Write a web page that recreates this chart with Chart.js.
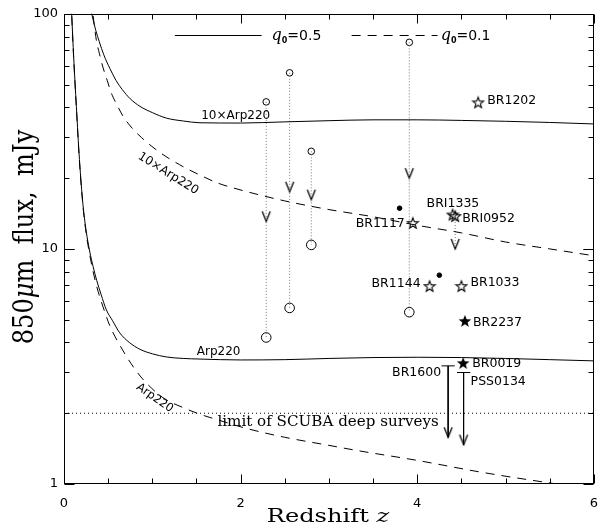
<!DOCTYPE html>
<html>
<head>
<meta charset="utf-8">
<script src="https://cdn.jsdelivr.net/npm/chart.js@4"></script>
<style>
  html, body { margin: 0; padding: 0; background: #fff; }
  #wrap { width: 610px; height: 529px; }
</style>
</head>
<body>
<div id="wrap"><canvas id="fluxChart"></canvas></div>
<script>
// axis ticks
const xTicks = [0, 2, 4, 6];
const yTicks = [1, 10, 100];

// model curves (z, flux in mJy)
const zSolid10 = [0.30, 0.325, 0.36, 0.40, 0.45, 0.52, 0.59, 0.66, 0.75, 0.86, 1.0, 1.16, 1.35, 1.54, 2.0, 2.5, 3.0, 3.5, 4.0, 4.5, 5.0, 5.5, 6.0];
const fluxSolid10 = [106, 96, 85, 76, 67, 58.5, 52, 47.6, 43.5, 40.4, 38, 36.0, 35.0, 34.4, 34.3, 34.7, 35.1, 35.4, 35.4, 35.2, 34.9, 34.5, 34.0];

const zSolid1 = [0.08, 0.087, 0.11, 0.14, 0.175, 0.215, 0.25, 0.29, 0.33, 0.37, 0.42, 0.48, 0.55, 0.63, 0.74, 0.86, 1.0, 1.16, 1.35, 1.54, 2.0, 2.5, 3.0, 3.5, 4.0, 4.5, 5.0, 5.5, 6.0];
const fluxSolid1 = [115, 100, 65, 40.4, 24, 15.4, 12.0, 9.8, 8.4, 7.35, 6.4, 5.5, 4.95, 4.4, 4.0, 3.74, 3.58, 3.47, 3.42, 3.40, 3.37, 3.38, 3.42, 3.45, 3.46, 3.45, 3.42, 3.38, 3.34];

const zDash10 = [0.33, 0.367, 0.40, 0.44, 0.49, 0.537, 0.60, 0.668, 0.76, 0.88, 1.08, 1.31, 1.54, 1.75, 1.91, 2.10, 2.5, 3.0, 3.5, 4.0, 4.5, 5.0, 5.5, 6.0];
const fluxDash10 = [98, 76.9, 68, 59.4, 52, 45.9, 41, 36.7, 33, 29.7, 25.8, 22.8, 20.6, 19.0, 18.2, 17.4, 16.0, 14.7, 13.7, 12.6, 11.7, 10.7, 10.0, 9.35];

const zDash1 = [0.08, 0.087, 0.11, 0.14, 0.175, 0.215, 0.25, 0.29, 0.33, 0.37, 0.44, 0.52, 0.64, 0.76, 0.89, 1.12, 1.34, 1.54, 1.73, 2.05, 2.5, 3.0, 3.31, 4.0, 4.74, 5.58, 6.0];
const fluxDash1 = [114, 99, 64, 40, 23.5, 15.2, 11.7, 9.5, 8.0, 6.93, 5.7, 4.70, 3.85, 3.25, 2.80, 2.33, 2.12, 1.98, 1.88, 1.73, 1.58, 1.46, 1.39, 1.26, 1.12, 1.0, 0.95];

// dotted tracks: small circle on top, big circle at bottom
const circleZ = [2.29, 2.555, 2.80, 3.91];
const circleTop = [42.2, 56.1, 26.0, 75.6];
const circleBottom = [4.2, 5.61, 10.4, 5.38];
const dropArrowZ = [2.29, 2.555, 2.80, 3.91, 4.43];
const dropArrowFlux = [13.1, 17.5, 16.2, 20.0, 10.0];

// quasars
const openStarNames = ['BR1202', 'BR1117', 'BRI1335', 'BRI0952', 'BR1144', 'BR1033'];
const openStarZ = [4.69, 3.95, 4.40, 4.43, 4.14, 4.50];
const openStarFlux = [42.0, 12.9, 14.0, 13.8, 6.95, 6.95];
const filledStarNames = ['BR2237', 'BR0019'];
const filledStarZ = [4.54, 4.52];
const filledStarFlux = [4.94, 3.27];
const dotZ = [3.80, 4.25];
const dotFlux = [14.9, 7.73];

// upper limits
const limitNames = ['BR1600', 'PSS0134'];
const limitZ = [4.35, 4.525];
const limitFlux = [3.18, 2.98];
const limitTip = [1.58, 1.47];

const scubaLimit = 2;

// ---- styles / layout ----
const barHalf = 0.075;
const DASH = [9, 7];

// label offsets in pixels from their marker: [dx, dy, align]
const nameOffset = {
    BR1202: [9, -2, 'left'],
    BR1117: [-8, 1, 'right'],
    BRI1335: [-26, -11, 'left'],
    BRI0952: [7, 2.5, 'left'],
    BR1144: [-9, -2, 'right'],
    BR1033: [9, -3, 'left'],
    BR2237: [8, 2, 'left'],
    BR0019: [9, 1, 'left'],
    BR1600: [-7, 7, 'right'],
    PSS0134: [7, 9, 'left']
};

// curve labels in data coordinates
const curveNotes = [
    { text: '10\u00d7Arp220', z: 1.944, f: 36.9, angle: 0 },
    { text: '10\u00d7Arp220', z: 1.18, f: 20.9, angle: 32 },
    { text: 'Arp220', z: 1.751, f: 3.64, angle: 0 },
    { text: 'Arp220', z: 1.027, f: 2.32, angle: 35, size: 11.5 }
];

function pts(zs, fs) {
    return zs.map((z, i) => ({ x: z, y: fs[i] }));
}

function curve(zs, fs, dash) {
    return {
        type: 'line', data: pts(zs, fs), borderColor: '#000', borderWidth: 1,
        borderDash: dash, pointRadius: 0, cubicInterpolationMode: 'monotone', fill: false
    };
}

function segment(a, b, color, dash) {
    return {
        type: 'line', data: [a, b], borderColor: color, borderWidth: 1,
        borderDash: dash, pointRadius: 0, fill: false
    };
}

function markers(data, style, radius, fillColor) {
    return {
        type: 'scatter', data: data, pointStyle: style, pointRadius: radius,
        pointBorderColor: '#000', pointBorderWidth: 1, pointBackgroundColor: fillColor
    };
}

// point images
const arrowImg = (() => {
    const c = document.createElement('canvas');
    c.width = 12; c.height = 24;
    const g = c.getContext('2d');
    g.strokeStyle = '#000'; g.lineWidth = 1.3;
    g.beginPath(); g.moveTo(2, 2); g.lineTo(6, 12); g.lineTo(10, 2); g.stroke();
    return c;
})();

function starImg(filled) {
    const s = filled ? 16 : 14;
    const c = document.createElement('canvas');
    c.width = s; c.height = s;
    const g = c.getContext('2d');
    const R = filled ? 6.6 : 5.7, r = R * 0.42;
    g.beginPath();
    for (let i = 0; i < 10; i++) {
        const a = -Math.PI / 2 + i * Math.PI / 5;
        const rr = i % 2 ? r : R;
        g.lineTo(s / 2 + rr * Math.cos(a), s / 2 + 0.6 + rr * Math.sin(a));
    }
    g.closePath();
    if (filled) { g.fillStyle = '#000'; g.fill(); }
    else { g.strokeStyle = '#000'; g.lineWidth = 1.1; g.stroke(); }
    return c;
}

// ---- datasets ----
const datasets = [
    curve(zSolid10, fluxSolid10, []),
    curve(zSolid1, fluxSolid1, []),
    curve(zDash10, fluxDash10, DASH),
    curve(zDash1, fluxDash1, DASH),
    segment({ x: 0, y: scubaLimit }, { x: 6, y: scubaLimit }, '#000', [1, 3])
];

circleZ.forEach((z, i) => {
    datasets.push(segment({ x: z, y: circleTop[i] }, { x: z, y: circleBottom[i] }, '#777', [1, 2]));
});
const bri = openStarNames.indexOf('BRI0952');
datasets.push(segment({ x: dropArrowZ[4], y: openStarFlux[bri] }, { x: dropArrowZ[4], y: dropArrowFlux[4] }, '#777', [1, 2]));

limitZ.forEach((z, i) => {
    datasets.push(segment({ x: z - barHalf, y: limitFlux[i] }, { x: z + barHalf, y: limitFlux[i] }, '#000', []));
    datasets.push(segment({ x: z, y: limitFlux[i] }, { x: z, y: limitTip[i] }, '#000', []));
});

datasets.push(markers(pts(circleZ, circleTop), 'circle', 3.3, 'rgba(0,0,0,0)'));
datasets.push(markers(pts(circleZ, circleBottom), 'circle', 4.8, '#fff'));
datasets.push(markers(pts(dropArrowZ, dropArrowFlux).concat(pts(limitZ, limitTip)), arrowImg, 5, '#000'));
datasets.push(markers(pts(openStarZ, openStarFlux), starImg(false), 5, '#000'));
datasets.push(markers(pts(filledStarZ, filledStarFlux), starImg(true), 5, '#000'));
datasets.push(markers(pts(dotZ, dotFlux), 'circle', 2.3, '#000'));

// ---- drawing helpers ----
function richText(ctx, parts, x, y, align) {
    let w = 0;
    parts.forEach(p => { ctx.font = p[1]; w += ctx.measureText(p[0]).width; });
    let cx = align === 'center' ? x - w / 2 : x;
    ctx.textAlign = 'left';
    parts.forEach(p => {
        ctx.font = p[1];
        ctx.fillText(p[0], cx, y + (p[2] || 0));
        cx += ctx.measureText(p[0]).width;
    });
}

const framePlugin = {
    id: 'frame',
    afterDatasetsDraw(chart) {
        const { ctx, chartArea: a, scales } = chart;
        const xs = scales.x, ys = scales.y;
        ctx.save();
        ctx.strokeStyle = '#000';
        ctx.fillStyle = '#000';
        ctx.lineWidth = 1;
        ctx.setLineDash([]);

        // box
        const L = Math.round(a.left) + 0.5, R = Math.round(a.right) - 0.5;
        const T = Math.round(a.top) + 0.5, B = Math.round(a.bottom) - 0.5;
        ctx.strokeRect(L, T, R - L, B - T);

        // inward ticks
        ctx.beginPath();
        for (let v = 0; v <= 6.001; v += 0.5) {
            const px = Math.round(xs.getPixelForValue(v)) + 0.5;
            const len = Math.abs(v % 2) < 1e-6 ? 9 : 5;
            ctx.moveTo(px, B); ctx.lineTo(px, B - len);
            ctx.moveTo(px, T); ctx.lineTo(px, T + len);
        }
        [1, 10].forEach(d => {
            for (let m = 1; m <= 10; m++) {
                const py = Math.round(ys.getPixelForValue(m * d)) + 0.5;
                const len = (m === 1 || m === 10) ? 10 : 5;
                ctx.moveTo(L, py); ctx.lineTo(L + len, py);
                ctx.moveTo(R, py); ctx.lineTo(R - len, py);
            }
        });
        ctx.stroke();

        // names next to markers
        ctx.textBaseline = 'middle';
        ctx.font = '12.5px "DejaVu Sans"';
        const named = [
            [openStarNames, openStarZ, openStarFlux],
            [filledStarNames, filledStarZ, filledStarFlux],
            [limitNames, limitZ, limitFlux]
        ];
        named.forEach(([names, zs, fs]) => {
            names.forEach((n, i) => {
                const o = nameOffset[n];
                ctx.textAlign = o[2];
                ctx.fillText(n, xs.getPixelForValue(zs[i]) + o[0], ys.getPixelForValue(fs[i]) + o[1]);
            });
        });

        // curve labels
        curveNotes.forEach(n => {
            ctx.save();
            ctx.translate(xs.getPixelForValue(n.z), ys.getPixelForValue(n.f));
            ctx.rotate(n.angle * Math.PI / 180);
            ctx.font = (n.size || 12) + 'px "DejaVu Sans"';
            ctx.textAlign = 'center';
            ctx.fillText(n.text, 0, 0);
            ctx.restore();
        });

        // survey limit text
        ctx.save();
        ctx.translate(xs.getPixelForValue(2.99), ys.getPixelForValue(1.82));
        ctx.scale(1.08, 1);
        ctx.font = '14px "DejaVu Serif"';
        ctx.textAlign = 'center';
        ctx.fillText('limit of SCUBA deep surveys', 0, 0);
        ctx.restore();

        // legend
        const ly = ys.getPixelForValue(80.9);
        ctx.beginPath();
        ctx.moveTo(xs.getPixelForValue(1.255), Math.round(ly) + 0.5);
        ctx.lineTo(xs.getPixelForValue(2.238), Math.round(ly) + 0.5);
        ctx.stroke();
        ctx.setLineDash(DASH);
        ctx.beginPath();
        ctx.moveTo(xs.getPixelForValue(3.257), Math.round(ly) + 0.5);
        ctx.lineTo(xs.getPixelForValue(4.23), Math.round(ly) + 0.5);
        ctx.stroke();
        ctx.setLineDash([]);
        ctx.textBaseline = 'alphabetic';
        const qParts = val => [
            ['q', 'italic 16px "DejaVu Serif"', 0],
            ['0', 'bold 8px "DejaVu Sans"', 3],
            ['=' + val, '14px "DejaVu Sans"', 0]
        ];
        richText(ctx, qParts('0.5'), xs.getPixelForValue(2.35), ly + 5, 'left');
        richText(ctx, qParts('0.1'), xs.getPixelForValue(4.265), ly + 5, 'left');

        // axis titles (stretched like the original figure)
        ctx.save();
        ctx.translate(328, 521.5);
        ctx.scale(1.27, 1);
        richText(ctx, [['Redshift ', '19px "DejaVu Serif"'], ['z', 'italic 19px "DejaVu Serif"']], 0, 0, 'center');
        ctx.restore();

        ctx.save();
        ctx.translate(33, 237);
        ctx.scale(1.21, 1.05);
        ctx.rotate(-Math.PI / 2);
        richText(ctx, [
            ['850', '23px "DejaVu Serif"'],
            ['\u03bc', 'italic 23px "DejaVu Serif"'],
            ['m  flux,  mJy', '23px "DejaVu Serif"']
        ], 0, 0, 'center');
        ctx.restore();

        ctx.restore();
    }
};

Chart.defaults.color = '#000';
Chart.defaults.font.family = '"DejaVu Sans"';

new Chart(document.getElementById('fluxChart'), {
    type: 'scatter',
    data: { datasets: datasets },
    options: {
        responsive: true,
        maintainAspectRatio: false,
        animation: false,
        events: [],
        layout: { padding: { top: 7, right: 16, left: 0, bottom: 0 } },
        plugins: { legend: { display: false }, tooltip: { enabled: false } },
        scales: {
            x: {
                type: 'linear', min: 0, max: 6,
                afterBuildTicks: s => { s.ticks = xTicks.map(v => ({ value: v })); },
                afterFit: s => { s.height = 45; },
                ticks: { font: { size: 13 }, color: '#000', padding: 12, maxRotation: 0 },
                grid: { display: false, drawTicks: false },
                border: { display: false }
            },
            y: {
                type: 'logarithmic', min: 1, max: 100,
                afterBuildTicks: s => { s.ticks = yTicks.map(v => ({ value: v })); },
                afterFit: s => { s.width = 64; },
                ticks: { font: { size: 13 }, color: '#000', padding: 6, callback: v => String(v) },
                grid: { display: false, drawTicks: false },
                border: { display: false }
            }
        }
    },
    plugins: [framePlugin]
});
</script>
</body>
</html>
